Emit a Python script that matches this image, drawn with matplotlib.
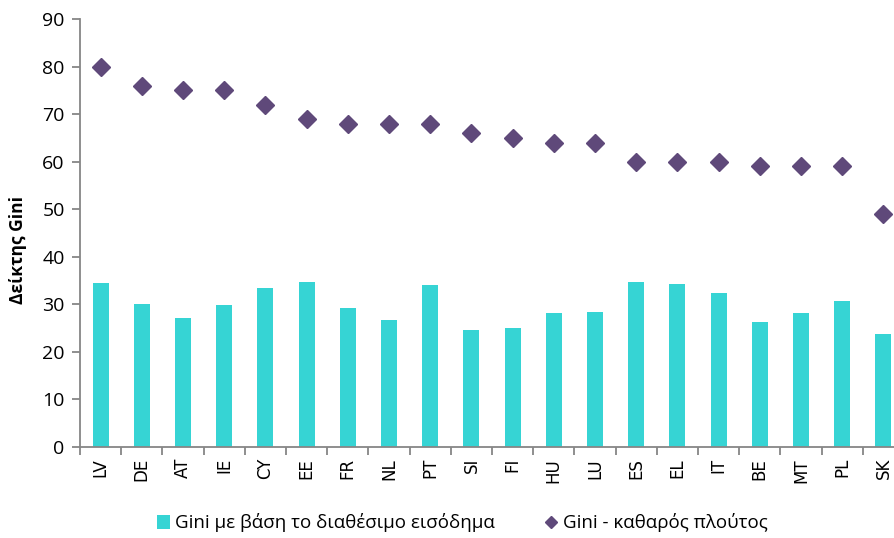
import matplotlib
matplotlib.use("Agg")
import matplotlib.pyplot as plt
from matplotlib.lines import Line2D
from matplotlib.patches import Patch
import numpy as np

countries = ["LV", "DE", "AT", "IE", "CY", "EE", "FR", "NL", "PT", "SI",
             "FI", "HU", "LU", "ES", "EL", "IT", "BE", "MT", "PL", "SK"]
gini_income = [34.4, 30.0, 27.1, 29.8, 33.5, 34.7, 29.2, 26.7, 34.0, 24.5,
               25.1, 28.1, 28.4, 34.6, 34.2, 32.4, 26.2, 28.1, 30.6, 23.7]
gini_wealth = [80, 76, 75, 75, 72, 69, 68, 68, 68, 66,
               65, 64, 64, 60, 60, 60, 59, 59, 59, 49]
yticks = [0, 10, 20, 30, 40, 50, 60, 70, 80, 90]

label_income = "Gini με βάση το διαθέσιμο εισόδημα"
label_wealth = "Gini - καθαρός πλούτος"
ylabel = "Δείκτης Gini"

bar_color = "#36D4D4"
marker_color = "#5F497A"
axis_color = "#868686"
fonts = ["Open Sans", "DejaVu Sans"]

W, H = 895, 538
fig = plt.figure(figsize=(W / 100, H / 100), dpi=100)
x0, x1, y0, y1 = 80, 904, 447, 19
ax = fig.add_axes([x0 / W, (H - y0) / H, (x1 - x0) / W, (y0 - y1) / H])

pos = np.arange(len(countries)) + 0.5
ax.bar(pos, gini_income, width=0.39, color=bar_color, zorder=2)
ax.plot(pos, gini_wealth, linestyle="none", marker="D", markersize=9,
        color=marker_color, zorder=3)

ax.set_xlim(0, len(countries))
ax.set_ylim(0, 90)
ax.set_yticks(yticks)
ax.set_yticklabels([str(v) for v in yticks], family=fonts, fontsize=14)

# category boundaries carry the tick marks; labels sit between them
ax.set_xticks(np.arange(len(countries) + 1))
ax.set_xticklabels([])
ax.set_xticks(pos, minor=True)
ax.set_xticklabels(countries, minor=True, rotation=90, fontsize=12,
                   family="DejaVu Sans")
ax.tick_params(axis="x", which="minor", length=0, pad=8)
ax.tick_params(axis="x", which="major", length=6, width=1.3, color=axis_color,
               direction="out")
ax.tick_params(axis="y", length=6, width=1.3, color=axis_color, direction="out",
               pad=5)

for side in ("top", "right"):
    ax.spines[side].set_visible(False)
for side in ("left", "bottom"):
    ax.spines[side].set_color(axis_color)
    ax.spines[side].set_linewidth(1.3)

fig.text(18 / W, 1 - 250 / H, ylabel, rotation=90, ha="center", va="center",
         fontsize=12.5, fontweight="bold", family=fonts)

handles = [Patch(facecolor=bar_color, edgecolor="none"),
           Line2D([], [], linestyle="none", marker="D", markersize=6.5,
                  color=marker_color)]
fig.legend(handles, [label_income, label_wealth], loc="center",
           bbox_to_anchor=(462 / W, 1 - 523 / H), ncol=2, frameon=False,
           prop={"family": fonts, "size": 13.5}, handlelength=0.7,
           handletextpad=0.3, columnspacing=2.6)

fig.savefig("out.png", dpi=100)
